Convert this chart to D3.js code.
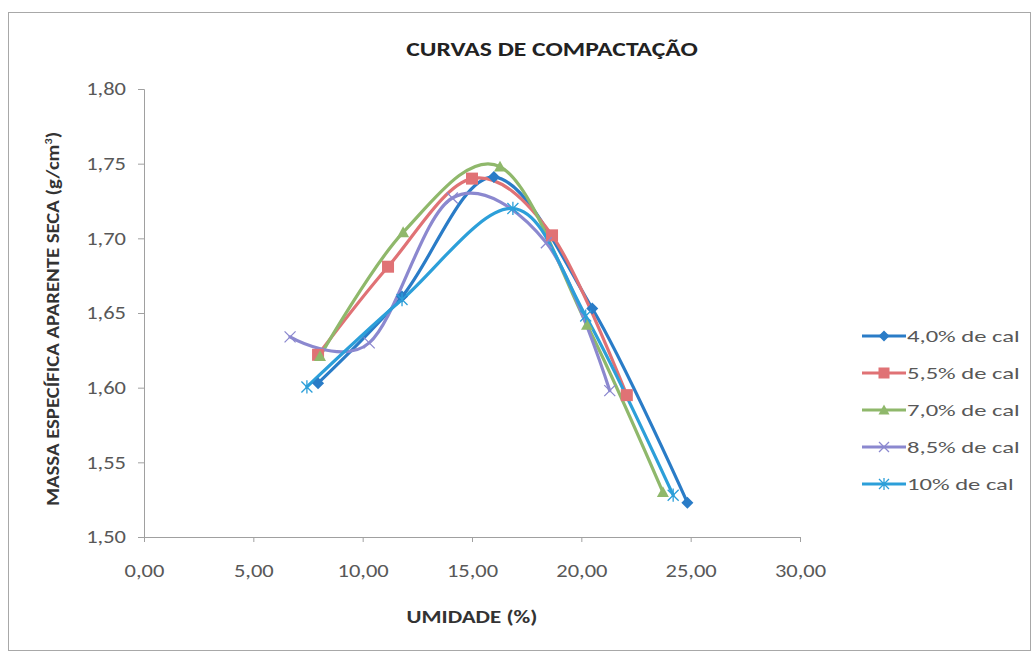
<!DOCTYPE html>
<html>
<head>
<meta charset="utf-8">
<script src="https://cdn.jsdelivr.net/npm/d3@7"></script>
<style>
  html, body { margin: 0; padding: 0; background: #fff; }
  svg { display: block; }
</style>
</head>
<body>
<svg id="chart" width="1033" height="652"></svg>
<script>
// Compaction curves: dry density vs. moisture content for each lime content
const seriesNames = ["4,0% de cal", "5,5% de cal", "7,0% de cal", "8,5% de cal", "10% de cal"];
const umidade40 = [7.96, 11.8, 16.0, 20.5, 24.85];
const massa40   = [1.603, 1.661, 1.741, 1.653, 1.523];
const umidade55 = [7.96, 11.16, 15.0, 18.66, 22.08];
const massa55   = [1.622, 1.681, 1.740, 1.702, 1.595];
const umidade70 = [8.05, 11.85, 16.28, 20.26, 23.73];
const massa70   = [1.621, 1.704, 1.748, 1.642, 1.530];
const umidade85 = [6.68, 10.3, 14.1, 18.4, 21.3];
const massa85   = [1.634, 1.630, 1.727, 1.697, 1.598];
const umidade10 = [7.45, 11.8, 16.87, 20.2, 24.2];
const massa10   = [1.6005, 1.659, 1.720, 1.648, 1.528];
const xTicks = [0, 5, 10, 15, 20, 25, 30];
const yTicks = [1.50, 1.55, 1.60, 1.65, 1.70, 1.75, 1.80];

const colors = ["#2a7cc7", "#e07275", "#8fb86b", "#8b88cf", "#2c9fd9"];
const markers = ["diamond", "square", "triangle", "cross", "asterisk"];

const series = [
  [umidade40, massa40], [umidade55, massa55], [umidade70, massa70],
  [umidade85, massa85], [umidade10, massa10]
].map(([xs, ys], i) => ({
  name: seriesNames[i], color: colors[i], marker: markers[i],
  points: xs.map((x, j) => ({ x, y: ys[j] }))
}));

const svg = d3.select("#chart");
const font = "Carlito, Lato, 'Open Sans', sans-serif";
const axisColor = "#a0a0a0";
const textColor = "#585858";
const stretch = 1.25; // wide lettering

// chart frame
svg.append("rect")
  .attr("x", 8.5).attr("y", 12.5).attr("width", 1022).attr("height", 638)
  .attr("fill", "#fff").attr("stroke", "#a8a8a8").attr("stroke-width", 1);

const plot = { left: 144, right: 800, top: 89, bottom: 537 };
const x = d3.scaleLinear().domain([0, 30]).range([plot.left, plot.right]);
const y = d3.scaleLinear().domain([1.50, 1.80]).range([plot.bottom, plot.top]);

const fmt = d => d3.format(".2f")(d).replace(".", ",");

// x axis
const gx = svg.append("g")
  .attr("transform", `translate(0,${plot.bottom})`)
  .call(d3.axisBottom(x).tickValues(xTicks).tickFormat(fmt).tickSize(5).tickPadding(22));
// y axis
const gy = svg.append("g")
  .attr("transform", `translate(${plot.left},0)`)
  .call(d3.axisLeft(y).tickValues(yTicks).tickFormat(fmt).tickSize(6).tickPadding(12));

[gx, gy].forEach(g => {
  g.select(".domain").attr("stroke", axisColor);
  g.selectAll(".tick line").attr("stroke", axisColor);
  g.selectAll(".tick text")
    .attr("fill", textColor).attr("font-family", font).attr("font-size", 18);
});
// widen the tick lettering
gx.selectAll(".tick text").attr("transform", `scale(${stretch},1)`);
gy.selectAll(".tick text").each(function () {
  const t = d3.select(this);
  const tx = +t.attr("x");
  t.attr("x", 0).attr("transform", `translate(${tx},0) scale(${stretch},1)`);
});

// titles
svg.append("text")
  .attr("transform", `translate(552,56) scale(1.22,1)`)
  .attr("text-anchor", "middle")
  .attr("font-family", font).attr("font-weight", "bold").attr("font-size", 21)
  .attr("fill", "#222").text("CURVAS DE COMPACTAÇÃO");

svg.append("text")
  .attr("transform", `translate(${(plot.left + plot.right) / 2},623) scale(1.35,1)`)
  .attr("text-anchor", "middle")
  .attr("font-family", font).attr("font-weight", "bold").attr("font-size", 17)
  .attr("fill", "#333").text("UMIDADE (%)");

const yTitle = svg.append("text")
  .attr("transform", `translate(59,${(plot.top + plot.bottom) / 2 + 6}) rotate(-90) scale(1.22,1)`)
  .attr("text-anchor", "middle")
  .attr("font-family", font).attr("font-weight", "bold").attr("font-size", 17)
  .attr("fill", "#333");
yTitle.append("tspan").text("MASSA ESPECÍFICA APARENTE SECA (g/cm");
yTitle.append("tspan").attr("font-size", 10).attr("dy", -7).text("3");
yTitle.append("tspan").attr("dy", 7).text(")");

// marker drawing
function drawMarker(g, type, color, size) {
  const s = size / 2;
  if (type === "diamond") {
    g.append("path").attr("d", `M0,${-s}L${s},0L0,${s}L${-s},0Z`).attr("fill", color);
  } else if (type === "square") {
    g.append("rect").attr("x", -s).attr("y", -s).attr("width", size).attr("height", size)
      .attr("fill", color);
  } else if (type === "triangle") {
    g.append("path").attr("d", `M0,${-s}L${s},${s * 0.8}L${-s},${s * 0.8}Z`).attr("fill", color);
  } else if (type === "cross") {
    g.append("path").attr("d", `M${-s},${-s}L${s},${s}M${-s},${s}L${s},${-s}`)
      .attr("stroke", color).attr("stroke-width", 1.3).attr("fill", "none");
  } else if (type === "asterisk") {
    g.append("path").attr("d", `M${-s},${-s}L${s},${s}M${-s},${s}L${s},${-s}M0,${-s * 1.2}L0,${s * 1.2}`)
      .attr("stroke", color).attr("stroke-width", 1.3).attr("fill", "none");
  }
}

const line = d3.line()
  .x(d => x(d.x)).y(d => y(d.y))
  .curve(d3.curveCardinal.tension(0));

const plotG = svg.append("g");
series.forEach(s => {
  plotG.append("path")
    .datum(s.points)
    .attr("d", line)
    .attr("fill", "none")
    .attr("stroke", s.color)
    .attr("stroke-width", 3.2)
    .attr("stroke-linejoin", "round")
    .attr("stroke-linecap", "round");
});
series.forEach(s => {
  s.points.forEach(p => {
    const g = plotG.append("g").attr("transform", `translate(${x(p.x)},${y(p.y)})`);
    drawMarker(g, s.marker, s.color, s.marker === "cross" || s.marker === "asterisk" ? 11 : 12);
  });
});

// legend
const legend = svg.append("g").attr("transform", "translate(862,336)");
series.forEach((s, i) => {
  const row = legend.append("g").attr("transform", `translate(0,${i * 37})`);
  row.append("line").attr("x1", 0).attr("x2", 44).attr("y1", 0).attr("y2", 0)
    .attr("stroke", s.color).attr("stroke-width", 3.2);
  const m = row.append("g").attr("transform", "translate(22,0)");
  drawMarker(m, s.marker, s.color, s.marker === "cross" || s.marker === "asterisk" ? 10 : 11);
  row.append("text")
    .attr("transform", "translate(45,0) scale(1.45,1)")
    .attr("dy", "0.35em")
    .attr("font-family", font).attr("font-size", 17).attr("fill", textColor)
    .text(s.name);
});
</script>
</body>
</html>
